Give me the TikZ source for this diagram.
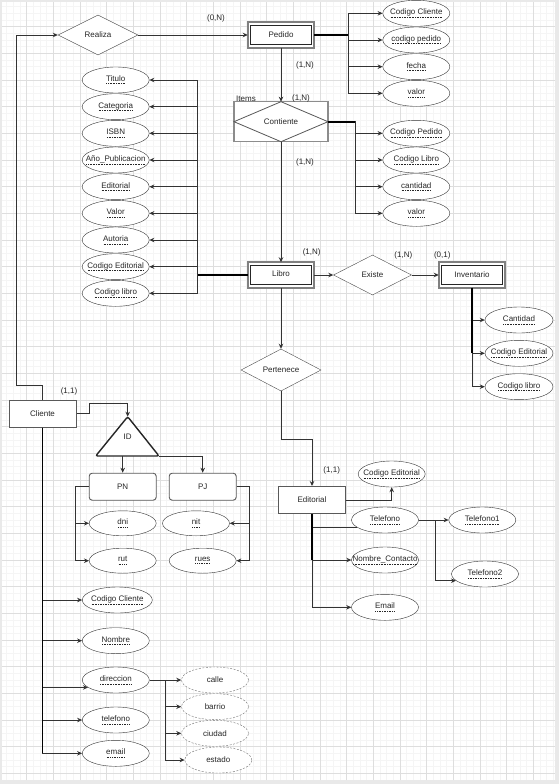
\documentclass[tikz,border=0pt]{standalone}
\usepackage{fontspec}
\setmainfont{Liberation Sans}
\usepackage{tikz}
\usetikzlibrary{arrows.meta,shapes.geometric}
\definecolor{gridmajor}{HTML}{DEDEDE}
\definecolor{gridminor}{HTML}{F5F5F5}
\definecolor{pagegrey}{HTML}{E9E9E9}
\newsavebox{\clavebox}
\newcommand*{\clave}[1]{%
  \sbox\clavebox{#1}\rlap{\usebox\clavebox}%
  \lower2.6pt\hbox to \wd\clavebox{\xleaders\hbox to 1.6pt{\hss\vrule width 0.8pt height 0.7pt\hss}\hfill}%
}
\newcommand*{\atributo}[4][attrib]{%
  \node [#1] (#2) at (#3) {\makebox[0pt]{\clave{#4}}};
}
\newcommand*{\doble}[1]{%
  \draw[black!85, line width=0.9pt] ([shift={(3,3)}]#1.north west)
    rectangle ([shift={(-3,-3)}]#1.south east);
}

\begin{document}
\begin{tikzpicture}[x=1pt, y=-1pt,
  every node/.style = {font=\fontsize{8}{9.6}\selectfont, text=black!85},
  attrib/.style     = {ellipse, draw=black!80, fill=white, inner sep=0pt,
                       minimum width=67pt, minimum height=26pt},
  subattrib/.style  = {attrib, draw=black!55, dash pattern=on 2pt off 1.5pt},
  entity/.style     = {rectangle, draw=black!65, line width=1pt, fill=white,
                       minimum width=67pt, minimum height=27pt},
  weak/.style       = {rectangle, draw=black!50, line width=1.6pt, fill=white,
                       outer sep=0pt, minimum width=66.5pt, minimum height=25.5pt},
  relation/.style   = {diamond, draw=black!70, fill=white, inner sep=0pt,
                       minimum width=80pt, minimum height=40pt},
  conn/.style       = {draw=black!80, line width=0.9pt,
                       -{Stealth[length=5pt,width=4.5pt]}},
  link/.style       = {draw=black!80, line width=0.9pt},
  bus/.style        = {draw=black, line width=1.8pt},
  card/.style       = {inner sep=0pt}
]
  \useasboundingbox (0,0) rectangle (559,784);
  \fill[pagegrey] (0,0) rectangle (559,784);
  \fill[white] (2,2) rectangle (555,780);
  \draw[gridminor, line width=0.5pt, step=6.667pt] (2,2) grid (555,780);
  \draw[gridmajor, line width=0.6pt, step=26.667pt] (2,2) grid (555,780);

  % entidades y relaciones
  \node[relation] (realiza) at (98,35) {Realiza};
  \node[weak] (pedido) at (281,35) {Pedido};
  \doble{pedido}
  \node[rectangle, draw=black!45, line width=1.5pt, fill=white, outer sep=0pt,
        minimum width=94pt, minimum height=40pt] (contiente) at (281,121.7) {Contiente};
  \draw[draw=black!65, line width=0.8pt] (contiente.west) -- (contiente.north)
    -- (contiente.east) -- (contiente.south) -- cycle;
  \node[weak] (libro) at (281,275) {\raisebox{3pt}{Libro}};
  \doble{libro}
  \node[relation, minimum width=78pt] (existe) at (372.5,275) {Existe};
  \node[weak] (inventario) at (472,275) {Inventario};
  \doble{inventario}
  \node[relation] (pertenece) at (281,370) {Pertenece};
  \node[entity] (editorial) at (312,500) {Editorial};
  \node[entity] (cliente) at (42.5,413.5) {Cliente};
  \node[entity, rounded corners=3pt, line width=0.9pt] (pn) at (122.7,486.7) {PN};
  \node[entity, rounded corners=3pt, line width=0.9pt] (pj) at (202.7,486.7) {PJ};

  \coordinate (idapex) at (127.7,416.7);
  \coordinate (idleft) at (95.7,456);
  \coordinate (idright) at (159,456);
  \draw[black!85, line width=1.4pt, rounded corners=2pt, fill=white]
    (idapex) -- (idright) -- (idleft) -- cycle;
  \node (id) at (127.7,437) {ID};

  % atributos de Pedido
  \atributo{pedCodCli}{416.3,13.3}{Codigo Cliente}
  \atributo{pedCodigo}{416.3,40}{codigo pedido}
  \atributo{pedFecha}{416.3,66.7}{fecha}
  \atributo{pedValor}{416.3,93.3}{valor}

  % atributos de Contiente
  \atributo{itCodPed}{416.3,133.3}{Codigo Pedido}
  \atributo{itCodLib}{416.3,160}{Codigo Libro}
  \atributo{itCantidad}{416.3,186.7}{cantidad}
  \atributo{itValor}{416.3,213.3}{valor}

  % atributos de Libro
  \atributo{libTitulo}{115.7,80}{Titulo}
  \atributo{libCategoria}{115.7,106.7}{Categoria}
  \atributo{libIsbn}{115.7,133.3}{ISBN}
  \atributo{libAnio}{115.7,160}{Año\_Publicacion}
  \atributo{libEditorial}{115.7,186.7}{Editorial}
  \atributo{libValor}{115.7,213.3}{Valor}
  \atributo{libAutoria}{115.7,240}{Autoria}
  \atributo{libCodEd}{115.7,266.7}{Codigo Editorial}
  \atributo{libCodigo}{115.7,293.3}{Codigo libro}

  % atributos de Inventario
  \atributo[attrib, minimum width=68pt]{invCantidad}{519,320}{Cantidad}
  \atributo[attrib, minimum width=68pt]{invCodEd}{519,353.3}{Codigo Editorial}
  \atributo[attrib, minimum width=68pt]{invCodLib}{519,386.7}{Codigo libro}

  % atributos de Editorial
  \atributo{edCodigo}{391.7,474}{Codigo Editorial}
  \atributo{edTelefono}{385,520}{Telefono}
  \atributo{edNombre}{385,560}{Nombre\_Contacto}
  \atributo{edEmail}{385,607.3}{Email}
  \atributo{telefono1}{482.3,520}{Telefono1}
  \atributo{telefono2}{485,574}{Telefono2}

  % atributos de PN y PJ
  \atributo[attrib, minimum height=25pt]{dni}{122.7,523.3}{dni}
  \atributo[attrib, minimum height=25pt]{rut}{122.7,560.7}{rut}
  \atributo[attrib, minimum height=25pt]{nit}{196,523.3}{nit}
  \atributo[attrib, minimum height=25pt]{rues}{202.7,560.7}{rues}

  % atributos de Cliente
  \atributo[attrib, minimum width=70pt]{cliCodigo}{117.3,600}{Codigo Cliente}
  \atributo{cliNombre}{115.8,640.7}{Nombre}
  \atributo{cliDireccion}{115.8,680}{direccion}
  \atributo{cliTelefono}{115.8,720}{telefono}
  \atributo{cliEmail}{115.8,753.3}{email}
  \node[subattrib] (calle) at (215,680) {calle};
  \node[subattrib] (barrio) at (215,706.7) {barrio};
  \node[subattrib] (ciudad) at (215,733.3) {ciudad};
  \node[subattrib] (estado) at (218.3,760) {estado};

  % conectores
  \draw[conn] (cliente.north) -- ++(0,-14) -- ++(-26.5,0) |- (realiza.west);
  \draw[conn] (realiza.east) -- (pedido.west);
  \draw[conn] (pedido.south) -- (contiente.north);
  \draw[conn] (contiente.south) -- (libro.north);
  \draw[conn] (libro.east) -- (existe.west);
  \draw[conn] (existe.east) -- (inventario.west);
  \draw[conn] (libro.south) -- (pertenece.north);
  \draw[conn] (pertenece.south) -- ++(0,48) -| (editorial.north);

  \draw[conn] (pedido.east) -- ++(34,0) |- (pedCodCli.west);
  \draw[conn] (pedido.east) -- ++(34,0) |- (pedCodigo.west);
  \draw[conn] (pedido.east) -- ++(34,0) |- (pedFecha.west);
  \draw[conn] (pedido.east) -- ++(34,0) |- (pedValor.west);
  \draw[bus] (pedido.east) -- ++(34,0);

  \draw[conn] (contiente.east) -- ++(27,0) |- (itCodPed.west);
  \draw[conn] (contiente.east) -- ++(27,0) |- (itCodLib.west);
  \draw[conn] (contiente.east) -- ++(27,0) |- (itCantidad.west);
  \draw[conn] (contiente.east) -- ++(27,0) |- (itValor.west);
  \draw[bus] (contiente.east) -- ++(27,0);

  \draw[conn] (libro.west) -- ++(-50,0) |- (libTitulo.east);
  \draw[conn] (libro.west) -- ++(-50,0) |- (libCategoria.east);
  \draw[conn] (libro.west) -- ++(-50,0) |- (libIsbn.east);
  \draw[conn] (libro.west) -- ++(-50,0) |- (libAnio.east);
  \draw[conn] (libro.west) -- ++(-50,0) |- (libEditorial.east);
  \draw[conn] (libro.west) -- ++(-50,0) |- (libValor.east);
  \draw[conn] (libro.west) -- ++(-50,0) |- (libAutoria.east);
  \draw[conn] (libro.west) -- ++(-50,0) |- (libCodEd.east);
  \draw[conn] (libro.west) -- ++(-50,0) |- (libCodigo.east);
  \draw[bus] (libro.west) -- ++(-50,0);

  \draw[conn] (inventario.south) |- (invCantidad.west);
  \draw[conn] (inventario.south) |- (invCodEd.west);
  \draw[conn] (inventario.south) |- (invCodLib.west);
  \draw[bus, line width=1.3pt] (inventario.south) -- (inventario.south |- invCodEd.west);

  \draw[conn] (editorial.east) -| (edCodigo.south);
  \draw[link] (editorial.south) |- (edTelefono.195);
  \draw[conn] (editorial.south) |- (edNombre.west);
  \draw[conn] (editorial.south) |- (edEmail.west);
  \draw[bus, line width=1.3pt] (editorial.south) -- (editorial.south |- edNombre.west);
  \draw[conn] (edTelefono.east) -- (telefono1.west);
  \draw[conn] (edTelefono.east) -- ++(17,0) |- (telefono2.193);

  \draw[conn] (cliente.east) -- ++(13,0) -- ++(0,-10) -| (idapex);
  \draw[conn] (pn.north |- idleft) -- (pn.north);
  \draw[conn] (idright) -| (pj.north);
  \draw[conn] (pn.west) -- ++(-13,0) |- (dni.west);
  \draw[conn] (pn.west) -- ++(-13,0) |- (rut.west);
  \draw[conn] (pj.east) -- ++(13,0) |- (nit.east);
  \draw[conn] (pj.east) -- ++(13,0) |- (rues.east);

  \draw[conn] (cliente.south) |- (cliCodigo.west);
  \draw[conn] (cliente.south) |- (cliNombre.west);
  \draw[conn] (cliente.south) |- (cliDireccion.195);
  \draw[conn] (cliente.south) |- (cliTelefono.west);
  \draw[conn] (cliente.south) |- (cliEmail.west);
  \draw[bus] (cliente.south) -- (cliente.south |- cliEmail.west);
  \draw[conn] (cliDireccion.east) -- (calle.west);
  \draw[conn] (cliDireccion.east) -- ++(16,0) |- (barrio.west);
  \draw[conn] (cliDireccion.east) -- ++(16,0) |- (ciudad.west);
  \draw[conn] (cliDireccion.east) -- ++(16,0) |- (estado.west);

  % cardinalidades
  \node[card] (cardRealiza) at (216,18) {(0,N)};
  \node[card] (cardPedido) at (305,65) {(1,N)};
  \node[card] (itemsTag) at (246,98.3) {Items};
  \node[card] (cardItems) at (301,98.3) {(1,N)};
  \node[card] (cardLibro) at (305,162) {(1,N)};
  \node[card] (cardLibroB) at (311.7,252.3) {(1,N)};
  \node[card] (cardExiste) at (403.3,255.5) {(1,N)};
  \node[card] (cardInv) at (442.3,255.5) {(0,1)};
  \node[card] (cardEditorial) at (331.7,470.7) {(1,1)};
  \node[card] (cardCliente) at (69,391) {(1,1)};
\end{tikzpicture}
\end{document}
